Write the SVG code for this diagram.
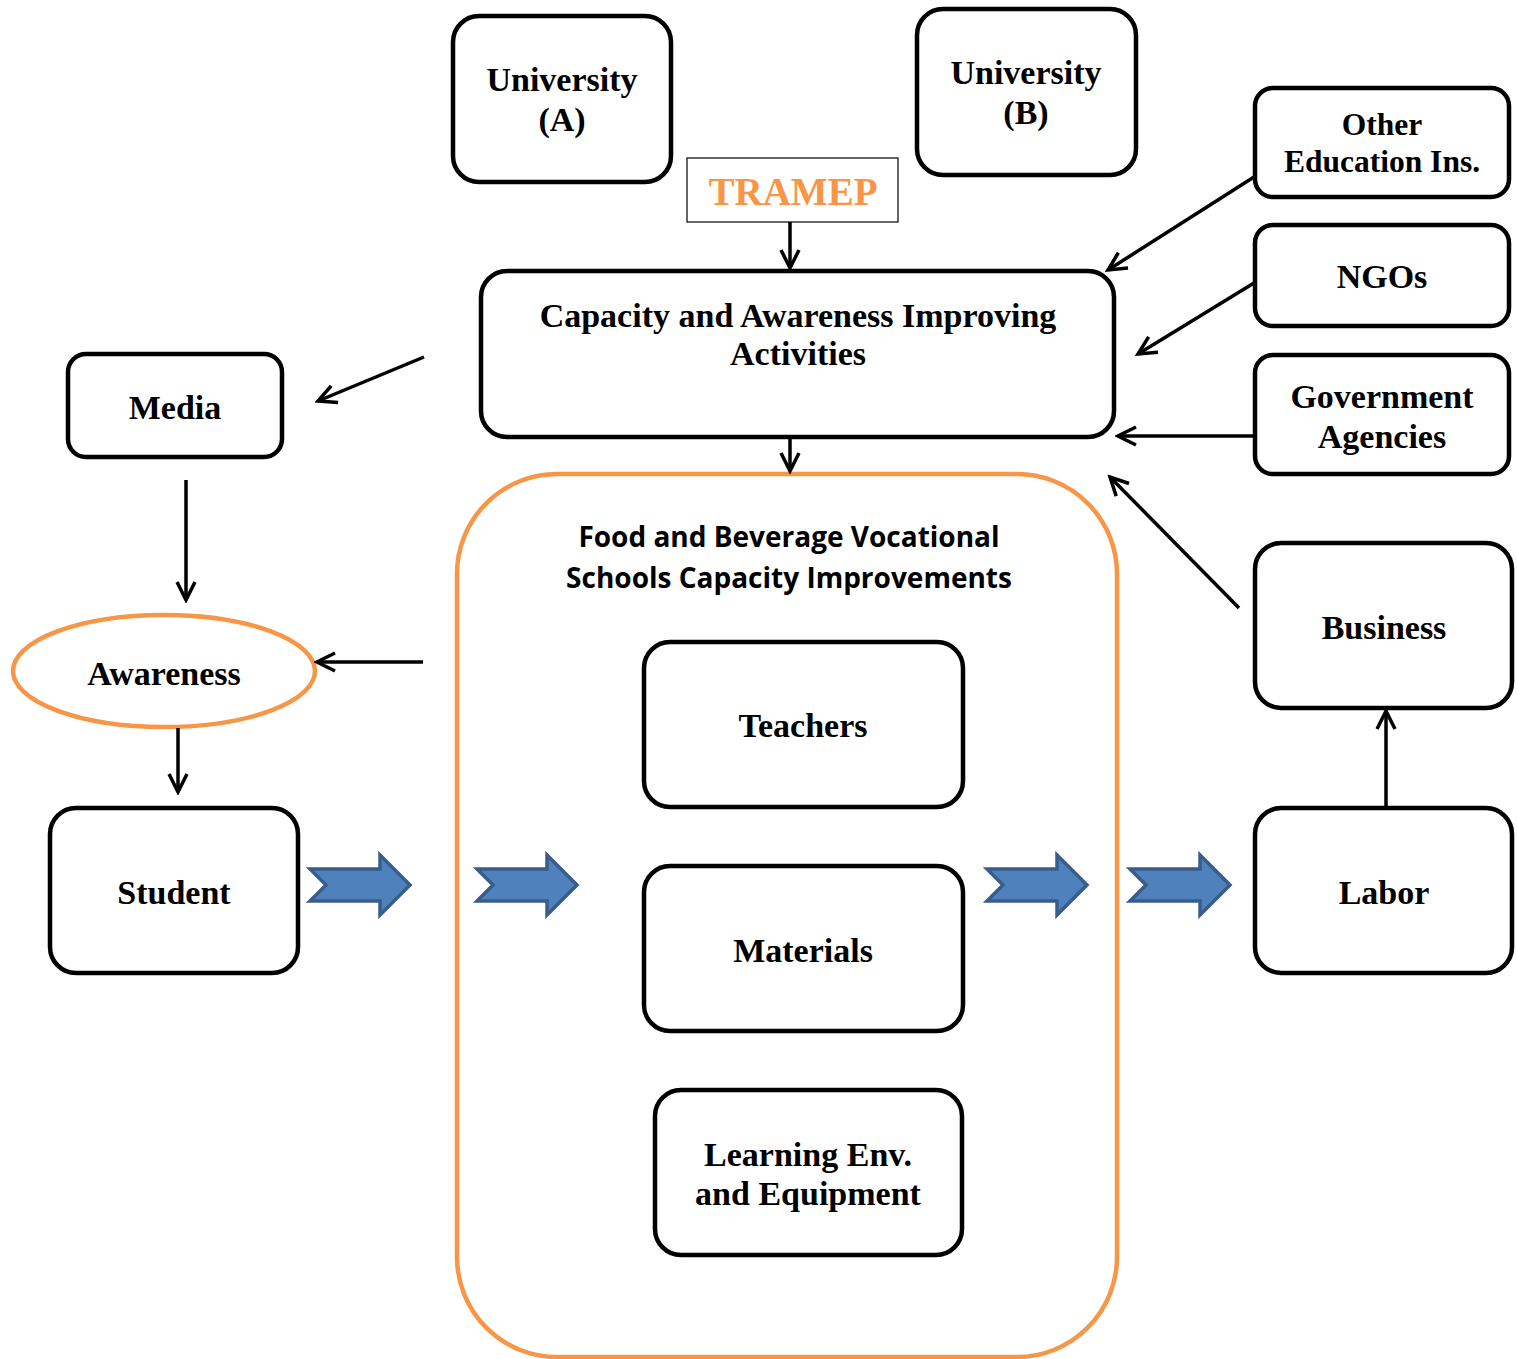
<svg xmlns="http://www.w3.org/2000/svg" width="1517" height="1359" viewBox="0 0 1517 1359">
<style>
.box{fill:#fff;stroke:#000;stroke-width:4.5}
.t{font-family:"Liberation Serif","Times New Roman",serif;font-weight:bold;font-size:34px;fill:#000;text-anchor:middle}
.s{font-family:"Open Sans","Liberation Sans",sans-serif;font-weight:bold;font-size:28px;fill:#000;text-anchor:middle}
.ln{stroke:#000;stroke-width:3.5;fill:none}
.big{fill:#4F81BD;stroke:#385D8A;stroke-width:3.5;stroke-linejoin:miter}
</style>
<defs>
<marker id="ah" viewBox="0 0 24 24" refX="21" refY="12" markerWidth="24" markerHeight="24" markerUnits="userSpaceOnUse" orient="auto">
<path d="M3,3 L21,12 L3,21" fill="none" stroke="#000" stroke-width="3.5"/>
</marker>
<path id="barrow" d="M0,16 L70,16 L70,2 L100,32 L70,62 L70,48 L0,48 L16,32 Z"/>
</defs>
<rect width="1517" height="1359" fill="#fff"/>
<g id="school">
<rect x="457" y="474" width="660" height="883" rx="100" fill="none" stroke="#F79646" stroke-width="4.5"/>
<text class="s" x="789" y="547">Food and Beverage Vocational</text>
<text class="s" x="789" y="588">Schools Capacity Improvements</text>
</g>
<g id="univA"><rect class="box" x="453" y="16" width="218" height="166" rx="26"/><text class="t" x="562" y="91">University</text><text class="t" x="562" y="131">(A)</text></g>
<g id="univB"><rect class="box" x="917" y="9" width="219" height="166" rx="26"/><text class="t" x="1026" y="84">University</text><text class="t" x="1026" y="124">(B)</text></g>
<g id="tramep"><rect x="687" y="158" width="211" height="64" fill="#fff" stroke="#000" stroke-width="1.2"/><text class="t" x="793" y="205" style="fill:#F79646;font-size:39px">TRAMEP</text></g>
<g id="capacity"><rect class="box" x="481" y="271" width="633" height="166" rx="26"/><text class="t" x="798" y="327">Capacity and Awareness Improving</text><text class="t" x="798" y="365">Activities</text></g>
<g id="media"><rect class="box" x="68" y="354" width="214" height="103" rx="18"/><text class="t" x="175" y="419">Media</text></g>
<g id="awareness"><ellipse cx="164" cy="671" rx="151" ry="56" fill="#fff" stroke="#F79646" stroke-width="4.5"/><text class="t" x="164" y="685">Awareness</text></g>
<g id="student"><rect class="box" x="50" y="808" width="248" height="165" rx="26"/><text class="t" x="174" y="904">Student</text></g>
<g id="teachers"><rect class="box" x="644" y="642" width="319" height="165" rx="26"/><text class="t" x="803" y="737">Teachers</text></g>
<g id="materials"><rect class="box" x="644" y="866" width="319" height="165" rx="26"/><text class="t" x="803" y="962">Materials</text></g>
<g id="learning"><rect class="box" x="655" y="1090" width="307" height="165" rx="26"/><text class="t" x="808" y="1166">Learning Env.</text><text class="t" x="808" y="1205">and Equipment</text></g>
<g id="otherEdu"><rect class="box" x="1255" y="88" width="254" height="109" rx="18"/><text class="t" x="1382" y="135" style="font-size:31.5px">Other</text><text class="t" x="1382" y="172" style="font-size:31.5px">Education Ins.</text></g>
<g id="ngos"><rect class="box" x="1255" y="225" width="254" height="101" rx="18"/><text class="t" x="1382" y="288">NGOs</text></g>
<g id="gov"><rect class="box" x="1255" y="355" width="254" height="119" rx="18"/><text class="t" x="1382" y="408">Government</text><text class="t" x="1382" y="448">Agencies</text></g>
<g id="business"><rect class="box" x="1255" y="543" width="257" height="165" rx="26"/><text class="t" x="1384" y="639">Business</text></g>
<g id="labor"><rect class="box" x="1255" y="808" width="257" height="165" rx="26"/><text class="t" x="1384" y="904">Labor</text></g>
<g id="connectors">
<line class="ln" x1="790" y1="222" x2="790" y2="268" marker-end="url(#ah)"/>
<line class="ln" x1="790" y1="437" x2="790" y2="471" marker-end="url(#ah)"/>
<line class="ln" x1="424" y1="357" x2="318" y2="401" marker-end="url(#ah)"/>
<line class="ln" x1="186" y1="480" x2="186" y2="600" marker-end="url(#ah)"/>
<line class="ln" x1="423" y1="662" x2="317" y2="662" marker-end="url(#ah)"/>
<line class="ln" x1="178" y1="728" x2="178" y2="792" marker-end="url(#ah)"/>
<line class="ln" x1="1254" y1="177" x2="1108" y2="270" marker-end="url(#ah)"/>
<line class="ln" x1="1254" y1="283" x2="1138" y2="354" marker-end="url(#ah)"/>
<line class="ln" x1="1254" y1="436" x2="1118" y2="436" marker-end="url(#ah)"/>
<line class="ln" x1="1239" y1="608" x2="1110" y2="477" marker-end="url(#ah)"/>
<line class="ln" x1="1386" y1="806" x2="1386" y2="711" marker-end="url(#ah)"/>
<use href="#barrow" class="big" x="310" y="853"/>
<use href="#barrow" class="big" x="477" y="853"/>
<use href="#barrow" class="big" x="987" y="853"/>
<use href="#barrow" class="big" x="1130" y="853"/>
</g>
</svg>
